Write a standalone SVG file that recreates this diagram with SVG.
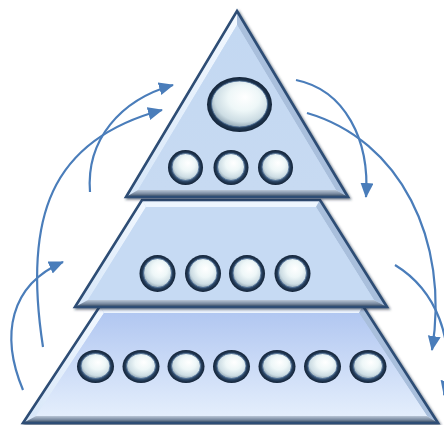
<svg xmlns="http://www.w3.org/2000/svg" width="444" height="425" viewBox="0 0 444 425">
  <style>
    .outline { fill: none; stroke: #2d4d75; stroke-width: 2.6; stroke-linejoin: miter; }
    .faceL { fill: url(#gLeft); }
    .faceR { fill: #a9bfdc; }
    .faceT { fill: #eef6ff; }
    .faceB { fill: url(#gBottom); }
    .ring { fill: url(#gRing); }
    .ball { fill: url(#gBall); stroke: #4a6b92; stroke-width: 0.8; }
    .arrow { fill: none; stroke: #4a7dba; stroke-width: 2.2; marker-end: url(#ah); }
  </style>
  <defs>
    <linearGradient id="gLeft" x1="0" y1="0" x2="1" y2="0">
      <stop offset="0" stop-color="#d6e6f8"/>
      <stop offset="1" stop-color="#f2f8ff"/>
    </linearGradient>
    <linearGradient id="gBottom" x1="0" y1="0" x2="0" y2="1">
      <stop offset="0" stop-color="#b9c6d6"/>
      <stop offset="0.5" stop-color="#7d8ea4"/>
      <stop offset="1" stop-color="#34455c"/>
    </linearGradient>
    <linearGradient id="gTopFill" x1="0" y1="0" x2="0" y2="1">
      <stop offset="0" stop-color="#c3d8f2"/>
      <stop offset="1" stop-color="#c7daf2"/>
    </linearGradient>
    <linearGradient id="gBotFill" x1="0" y1="0" x2="0" y2="1">
      <stop offset="0" stop-color="#b1c7f1"/>
      <stop offset="1" stop-color="#e4eefc"/>
    </linearGradient>
    <radialGradient id="gRing" cx="50%" cy="50%" r="50%">
      <stop offset="0.72" stop-color="#3e5d82"/>
      <stop offset="0.88" stop-color="#1f3550"/>
      <stop offset="1" stop-color="#142438"/>
    </radialGradient>
    <radialGradient id="gBall" cx="55%" cy="40%" r="62%" fx="60%" fy="35%">
      <stop offset="0" stop-color="#ffffff"/>
      <stop offset="0.45" stop-color="#eef7f8"/>
      <stop offset="0.8" stop-color="#cddde4"/>
      <stop offset="1" stop-color="#8ea3b2"/>
    </radialGradient>
    <filter id="sh" x="-5%" y="-5%" width="115%" height="115%">
      <feDropShadow dx="1.5" dy="1.5" stdDeviation="1" flood-color="#1a2b40" flood-opacity="0.6"/>
    </filter>
    <marker id="ah" markerUnits="userSpaceOnUse" markerWidth="16" markerHeight="14" refX="14" refY="6.5" orient="auto">
      <path d="M0,0 L15,6.5 L0,13 Z" fill="#4a7dba"/>
    </marker>
  </defs>

  <g id="tier-bottom">
    <g filter="url(#sh)">
      <polygon points="100,306 363,306 438,423 23,423" fill="url(#gBotFill)"/>
      <polygon class="faceT" points="100,306 363,306 359,313 104,313"/>
      <polygon class="faceL" points="100,306 104,313 36,416 23,423"/>
      <polygon class="faceR" points="363,306 438,423 427,416 359,313"/>
      <polygon class="faceB" points="36,416 427,416 438,423 23,423"/>
      <polygon points="104,313 359,313 427,416 36,416" fill="url(#gBotFill)"/>
      <polygon class="outline" points="100,306 363,306 438,423 23,423"/>
    </g>
    <g id="bottom-circles">
      <ellipse class="ring" cx="95.5" cy="366.5" rx="18.5" ry="16.5"/><ellipse class="ball" cx="95.5" cy="366" rx="14.5" ry="12.5"/>
      <ellipse class="ring" cx="141" cy="366.5" rx="18.5" ry="16.5"/><ellipse class="ball" cx="141" cy="366" rx="14.5" ry="12.5"/>
      <ellipse class="ring" cx="186" cy="366.5" rx="18.5" ry="16.5"/><ellipse class="ball" cx="186" cy="366" rx="14.5" ry="12.5"/>
      <ellipse class="ring" cx="231.5" cy="366.5" rx="18.5" ry="16.5"/><ellipse class="ball" cx="231.5" cy="366" rx="14.5" ry="12.5"/>
      <ellipse class="ring" cx="277" cy="366.5" rx="18.5" ry="16.5"/><ellipse class="ball" cx="277" cy="366" rx="14.5" ry="12.5"/>
      <ellipse class="ring" cx="322.5" cy="366.5" rx="18.5" ry="16.5"/><ellipse class="ball" cx="322.5" cy="366" rx="14.5" ry="12.5"/>
      <ellipse class="ring" cx="368" cy="366.5" rx="18.5" ry="16.5"/><ellipse class="ball" cx="368" cy="366" rx="14.5" ry="12.5"/>
    </g>
  </g>

  <g id="tier-middle">
    <g filter="url(#sh)">
      <polygon points="142,200 320,200 387,307 75,307" fill="#c6daf3"/>
      <polygon class="faceT" points="142,200 320,200 316,207 146,207"/>
      <polygon class="faceL" points="142,200 146,207 88,300 75,307"/>
      <polygon class="faceR" points="320,200 387,307 374,300 316,207"/>
      <polygon class="faceB" points="88,300 374,300 387,307 75,307"/>
      <polygon points="146,207 316,207 374,300 88,300" fill="#c6daf3"/>
      <polygon class="outline" points="142,200 320,200 387,307 75,307"/>
    </g>
    <g id="middle-circles">
      <ellipse class="ring" cx="157.5" cy="273.5" rx="18" ry="18.5"/><ellipse class="ball" cx="157.5" cy="273" rx="14" ry="14.5"/>
      <ellipse class="ring" cx="203" cy="273.5" rx="18" ry="18.5"/><ellipse class="ball" cx="203" cy="273" rx="14" ry="14.5"/>
      <ellipse class="ring" cx="247" cy="273.5" rx="18" ry="18.5"/><ellipse class="ball" cx="247" cy="273" rx="14" ry="14.5"/>
      <ellipse class="ring" cx="292.5" cy="273.5" rx="18" ry="18.5"/><ellipse class="ball" cx="292.5" cy="273" rx="14" ry="14.5"/>
    </g>
  </g>

  <g id="tier-top">
    <g filter="url(#sh)">
      <polygon points="237,11 348,197 126,197" fill="url(#gTopFill)"/>
      <polygon class="faceL" points="237,11 237,25 138,190 126,197"/>
      <polygon class="faceR" points="237,11 348,197 336,190 237,25"/>
      <polygon class="faceB" points="138,190 336,190 348,197 126,197"/>
      <polygon points="237,25 336,190 138,190" fill="url(#gTopFill)"/>
      <polygon class="outline" points="237,11 348,197 126,197"/>
    </g>
    <g id="top-circles">
      <ellipse class="ring" cx="239.5" cy="104.5" rx="32.5" ry="27.5"/><ellipse class="ball" cx="239.5" cy="104" rx="28" ry="23"/>
      <ellipse class="ring" cx="185.5" cy="167.5" rx="17.5" ry="17.5"/><ellipse class="ball" cx="185.5" cy="167" rx="13.5" ry="13.5"/>
      <ellipse class="ring" cx="231" cy="167.5" rx="17.5" ry="17.5"/><ellipse class="ball" cx="231" cy="167" rx="13.5" ry="13.5"/>
      <ellipse class="ring" cx="275.5" cy="167.5" rx="17.5" ry="17.5"/><ellipse class="ball" cx="275.5" cy="167" rx="13.5" ry="13.5"/>
    </g>
  </g>

  <g id="connectors">
    <path class="arrow" d="M43,347 C23,218 50,140 162,110"/>
    <path class="arrow" d="M90,192 C86,140 120,100 173,85"/>
    <path class="arrow" d="M23,390 C0,335 10,285 63,262"/>
    <path class="arrow" d="M296,80 C345,90 370,140 366,197"/>
    <path class="arrow" d="M307,113 C400,140 450,240 432,350"/>
    <path class="arrow" d="M395,265 C436,290 456,340 444,395"/>
  </g>
</svg>
